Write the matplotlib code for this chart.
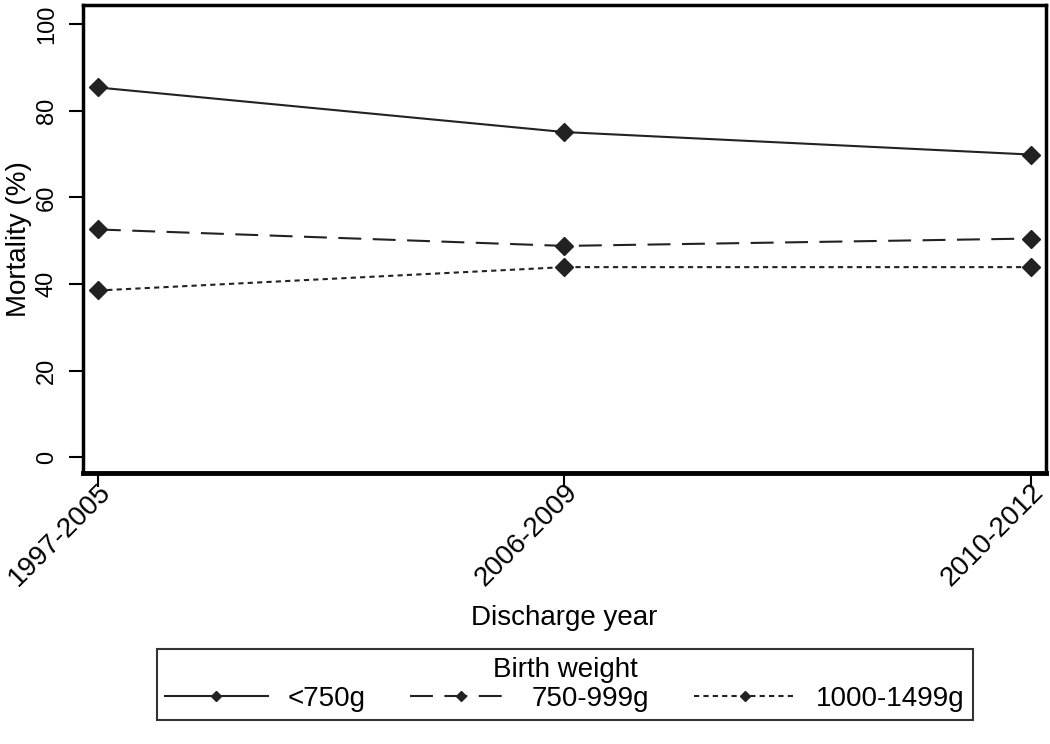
import matplotlib.pyplot as plt
from matplotlib.transforms import ScaledTranslation

plt.rcParams['font.family'] = ['Liberation Sans', 'DejaVu Sans']

periods = ['1997-2005', '2006-2009', '2010-2012']
under_750 = [85.4, 75.1, 69.9]
w750_999 = [52.6, 48.8, 50.5]
w1000_1499 = [38.5, 43.9, 43.9]
y_ticks = [0, 20, 40, 60, 80, 100]

fig = plt.figure(figsize=(10.5, 7.44), dpi=100)
ax = fig.add_axes([0.079, 0.364, 0.917, 0.629])

x = range(len(periods))
col = '#222222'
ax.plot(x, under_750, color=col, lw=1.5, ls='-', marker='D', ms=9,
        label='<750g')
ax.plot(x, w750_999, color=col, lw=1.5, ls=(0, (11, 5.5)), marker='D', ms=9,
        label='750-999g')
ax.plot(x, w1000_1499, color=col, lw=1.5, ls=(0, (2.5, 2)), marker='D', ms=9,
        label='1000-1499g')

ax.set_xlim(-0.032, 2.032)
ax.set_ylim(-3.7, 104.4)
ax.set_xticks(list(x))
ax.set_xticklabels(periods, rotation=45, ha='right', va='center',
                   rotation_mode='anchor', fontsize=20)
ax.set_yticks(y_ticks)
ax.set_yticklabels([str(v) for v in y_ticks], rotation=90, va='center',
                   fontsize=17)
ax.tick_params(axis='y', direction='out', length=10, width=1.5, pad=8)
ax.tick_params(axis='x', direction='out', length=10, width=1.5, pad=2)
# nudge the slanted labels so the tick points into their last digit
shift = ScaledTranslation(0.09, 0.02, fig.dpi_scale_trans)
for lab in ax.get_xticklabels():
    lab.set_transform(lab.get_transform() + shift)
for s in ax.spines.values():
    s.set_linewidth(2.5)
ax.spines['bottom'].set_linewidth(3.5)

ax.set_ylabel('Mortality (%)', fontsize=20)
ax.yaxis.set_label_coords(-0.0525, 0.5)
ax.set_xlabel('Discharge year', fontsize=20, labelpad=10)

leg = fig.legend(loc='center', bbox_to_anchor=(0.538, 0.080), ncol=3,
                 title='Birth weight', fontsize=20, title_fontsize=20,
                 handlelength=3.7, columnspacing=1.6, handletextpad=0.7,
                 fancybox=False, edgecolor='black', borderpad=0.3,
                 labelspacing=0.2, markerscale=0.6)
leg.get_frame().set_linewidth(1.5)
leg._legend_box.sep = 2

fig.savefig('out.png', dpi=100)
